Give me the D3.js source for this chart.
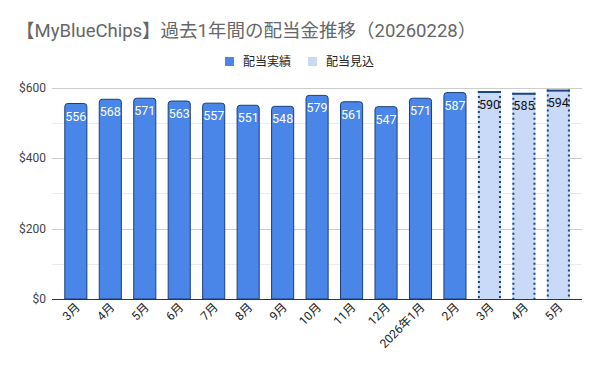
<!DOCTYPE html>
<html><head><meta charset="utf-8">
<script src="https://cdn.jsdelivr.net/npm/d3@7"></script>
<style>
html,body{margin:0;padding:0;background:#fff;}
text{font-family:Roboto,"Noto Sans CJK JP",Arial,sans-serif;}
</style></head>
<body><svg id="c" width="600" height="371"></svg>
<script>
const categories = ["3月","4月","5月","6月","7月","8月","9月","10月","11月","12月","2026年1月","2月","3月","4月","5月"];
const actualValues = [556,568,571,563,557,551,548,579,561,547,571,587,null,null,null];
const forecastValues = [null,null,null,null,null,null,null,null,null,null,null,null,590,585,594];
const yTicks = [0,200,400,600];
const yMinor = [100,300,500];
const titleText = "【MyBlueChips】過去1年間の配当金推移（20260228）";
const seriesNames = ["配当実績","配当見込"];

const svg = d3.select("#c");
const x = d3.scaleBand().domain(d3.range(categories.length)).range([58.6,575.6]).paddingInner(0.33).paddingOuter(0.165);
const y = d3.scaleLinear().domain([0,600]).range([299,87.5]);
const axL = 52, axR = 582;

svg.append("text").attr("x",16).attr("y",36.5).attr("font-size",18.5).attr("fill","#666").text(titleText);

// legend
const legendItems = [{n:seriesNames[0],c:"#4a86e8",x:225},{n:seriesNames[1],c:"#c9daf8",x:308}];
legendItems.forEach(d=>{
  svg.append("rect").attr("x",d.x).attr("y",57).attr("width",9).attr("height",9).attr("fill",d.c);
  svg.append("text").attr("x",d.x+18).attr("y",66).attr("font-size",12).attr("fill","#222").text(d.n);
});

// grid
svg.append("g").selectAll("line").data(yMinor).join("line")
  .attr("x1",axL).attr("x2",axR).attr("y1",d=>Math.round(y(d))+0.5).attr("y2",d=>Math.round(y(d))+0.5)
  .attr("stroke","#ebebeb");
svg.append("g").selectAll("line").data(yTicks.filter(d=>d>0)).join("line")
  .attr("x1",axL).attr("x2",axR).attr("y1",d=>Math.round(y(d))+0.5).attr("y2",d=>Math.round(y(d))+0.5)
  .attr("stroke","#cccccc");
svg.append("g").selectAll("text").data(yTicks).join("text")
  .attr("x",46).attr("y",d=>y(d)+4).attr("text-anchor","end").attr("font-size",12).attr("fill","#444")
  .text(d=>"$"+d);

const w = x.bandwidth(), r = 3;
function topRounded(x0,y0,w,h,r){
  return `M${x0},${y0+h}V${y0+r}Q${x0},${y0} ${x0+r},${y0}H${x0+w-r}Q${x0+w},${y0} ${x0+w},${y0+r}V${y0+h}Z`;
}
const actual = actualValues.map((v,i)=>({v,i})).filter(d=>d.v!=null);
const fc = forecastValues.map((v,i)=>({v,i})).filter(d=>d.v!=null);

svg.append("g").selectAll("path").data(actual).join("path")
  .attr("d",d=>topRounded(x(d.i)+0.5,y(d.v)+0.5,w-1,y(0)-y(d.v)-0.5,r))
  .attr("fill","#4a86e8").attr("stroke","#1c3f7a").attr("stroke-width",1);

const fg = svg.append("g");
fc.forEach(d=>{
  const x0=x(d.i), y0=y(d.v), h=y(0)-y(d.v);
  fg.append("rect").attr("x",x0).attr("y",y0).attr("width",w).attr("height",h).attr("fill","#c9daf8");
  fg.append("line").attr("x1",x0+1).attr("x2",x0+1).attr("y1",y0).attr("y2",y(0))
    .attr("stroke","#1c4587").attr("stroke-width",2).attr("stroke-dasharray","2,3");
  fg.append("line").attr("x1",x0+w-1).attr("x2",x0+w-1).attr("y1",y0).attr("y2",y(0))
    .attr("stroke","#1c4587").attr("stroke-width",2).attr("stroke-dasharray","2,3");
  fg.append("line").attr("x1",x0).attr("x2",x0+w).attr("y1",y0+1).attr("y2",y0+1)
    .attr("stroke","#1c4587").attr("stroke-width",2);
});

// labels
svg.append("g").selectAll("text").data(actual).join("text")
  .attr("x",d=>x(d.i)+w/2).attr("y",d=>y(d.v)+17.5).attr("text-anchor","middle")
  .attr("font-size",12.5).attr("fill","#fff").text(d=>d.v);
svg.append("g").selectAll("text").data(fc).join("text")
  .attr("x",d=>x(d.i)+w/2).attr("y",d=>y(d.v)+17.5).attr("text-anchor","middle")
  .attr("font-size",12.5).attr("fill","#111").text(d=>d.v);

// axis line
svg.append("line").attr("x1",axL).attr("x2",axR).attr("y1",299.5).attr("y2",299.5).attr("stroke","#333").attr("stroke-width",1);

// x labels
svg.append("g").selectAll("text").data(categories).join("text")
  .attr("transform",(d,i)=>`translate(${x(i)+w/2+5},${308}) rotate(-45)`)
  .attr("text-anchor","end").attr("font-size",12).attr("fill","#222").text(d=>d);
</script></body></html>
